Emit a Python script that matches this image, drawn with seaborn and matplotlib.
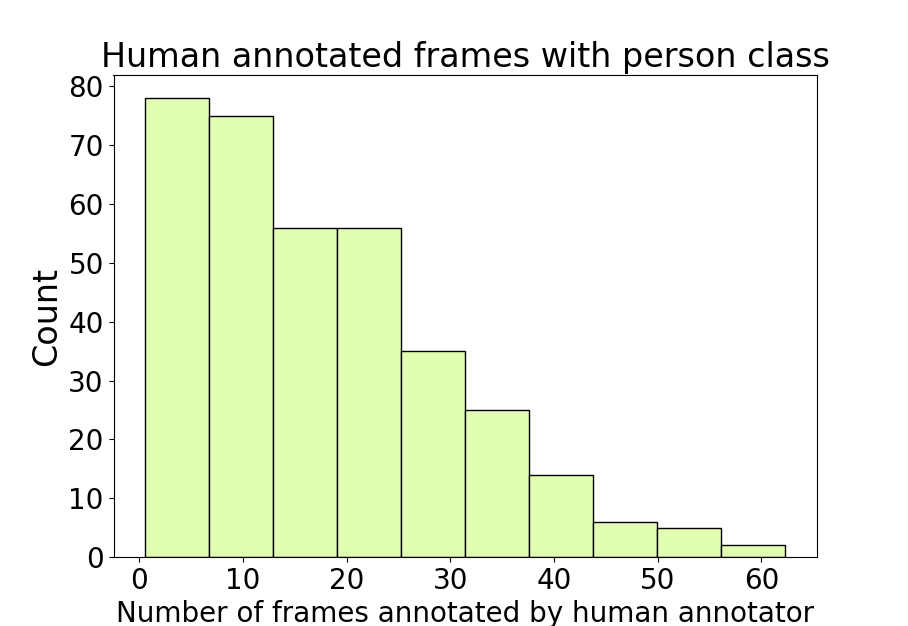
import numpy as np
import pandas as pd
import matplotlib
matplotlib.use("Agg")
import matplotlib.pyplot as plt
import seaborn as sns

# Bin range and counts
n_bins = 10
x_min, x_max = 0.6, 62.3
counts = [78, 75, 56, 56, 35, 25, 14, 6, 5, 2]

bin_edges = np.linspace(x_min, x_max, n_bins + 1)
bin_centers = (bin_edges[:-1] + bin_edges[1:]) / 2
df = pd.DataFrame({"frames": bin_centers, "count": counts})

fig, ax = plt.subplots(figsize=(9.08, 6.26), dpi=100)
sns.histplot(data=df, x="frames", weights="count", bins=n_bins,
             binrange=(x_min, x_max), color="#e0ffb0", alpha=1,
             edgecolor="black", linewidth=1, ax=ax)

ax.set_title("Human annotated frames with person class", fontsize=24)
ax.set_xlabel("Number of frames annotated by human annotator", fontsize=20)
ax.set_ylabel("Count", fontsize=24)
ax.tick_params(labelsize=20)
ax.set_yticks(range(0, 81, 10))

plt.savefig("out.png", dpi=100)
